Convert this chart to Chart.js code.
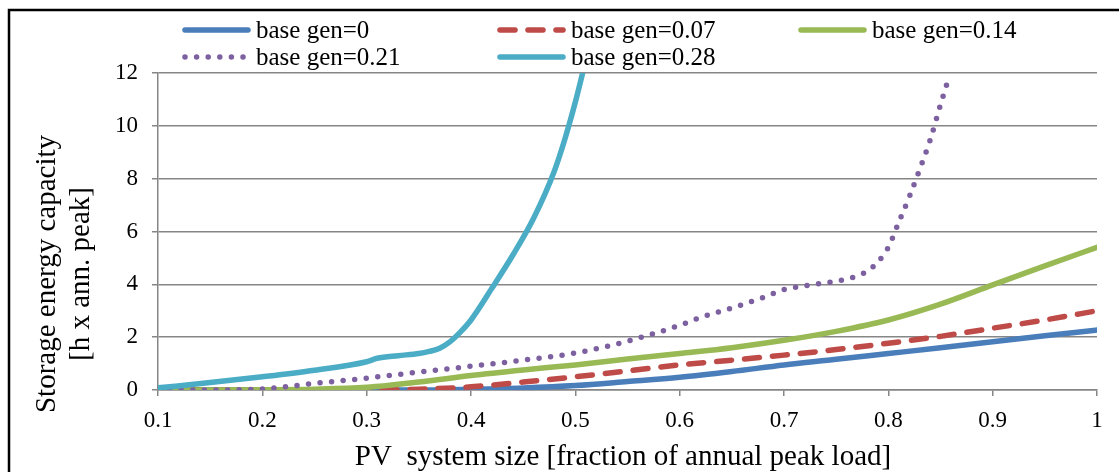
<!DOCTYPE html>
<html>
<head>
<meta charset="utf-8">
<script src="https://cdn.jsdelivr.net/npm/chart.js@4/dist/chart.umd.min.js"></script>
<style>
  html, body { margin: 0; padding: 0; background: #ffffff; }
  #wrap { width: 1119px; height: 472px; position: relative; }
</style>
</head>
<body>
<div id="wrap"><canvas id="c" width="1119" height="472"></canvas></div>
<script>
// ---- data ----
const seriesNames = ['base gen=0', 'base gen=0.07', 'base gen=0.14', 'base gen=0.21', 'base gen=0.28'];

const xCommon = [0.1, 0.15, 0.2, 0.25, 0.3, 0.35, 0.4, 0.45, 0.5, 0.55, 0.6, 0.65, 0.7, 0.75, 0.8, 0.85, 0.9, 0.95, 1.0];
const gen0    = [0, 0, 0, 0, 0, 0, 0.03, 0.08, 0.17, 0.32, 0.48, 0.7, 0.95, 1.16, 1.38, 1.6, 1.83, 2.05, 2.27];
const gen007  = [0, 0, 0, 0, 0, 0.03, 0.12, 0.3, 0.5, 0.72, 0.95, 1.13, 1.32, 1.53, 1.77, 2.03, 2.34, 2.65, 3.0];
const gen014  = [0, 0, 0.01, 0.03, 0.1, 0.3, 0.55, 0.76, 0.95, 1.17, 1.38, 1.6, 1.88, 2.22, 2.65, 3.25, 3.98, 4.7, 5.4];

const x021   = [0.1, 0.15, 0.2, 0.25, 0.3, 0.35, 0.4, 0.45, 0.5, 0.55, 0.6, 0.62, 0.65, 0.68, 0.7, 0.73, 0.76, 0.78, 0.79, 0.8, 0.81, 0.82, 0.83, 0.84, 0.85, 0.857];
const gen021 = [0, 0, 0.04, 0.25, 0.45, 0.68, 0.9, 1.13, 1.4, 1.85, 2.45, 2.75, 3.1, 3.5, 3.8, 4.0, 4.2, 4.5, 4.85, 5.4, 6.35, 7.3, 8.35, 9.45, 10.8, 11.7];

const x028   = [0.1, 0.15, 0.2, 0.25, 0.3, 0.31, 0.33, 0.35, 0.36, 0.37, 0.38, 0.39, 0.4, 0.42, 0.44, 0.46, 0.48, 0.49, 0.5, 0.507];
const gen028 = [0.08, 0.28, 0.5, 0.75, 1.07, 1.2, 1.3, 1.38, 1.46, 1.58, 1.83, 2.2, 2.65, 3.85, 5.1, 6.5, 8.3, 9.5, 10.9, 12];

const xTickLabels = ['0.1', '0.2', '0.3', '0.4', '0.5', '0.6', '0.7', '0.8', '0.9', '1'];
const yTickLabels = ['0', '2', '4', '6', '8', '10', '12'];

const xTitle = 'PV  system size [fraction of annual peak load]';
const yTitleLines = ['Storage energy capacity', '[h x ann. peak]'];

// ---- build ----
const pts = (xs, ys) => xs.map((x, i) => ({ x: x, y: ys[i] }));
const SERIF = "'Liberation Serif', 'Times New Roman', serif";

const datasets = [
  { label: seriesNames[0], data: pts(xCommon, gen0),   borderColor: '#4A7EBB', borderWidth: 5.5, borderDash: [],       borderCapStyle: 'round', order: 5 },
  { label: seriesNames[1], data: pts(xCommon, gen007), borderColor: '#BE4B48', borderWidth: 5.5, borderDash: [15, 13], borderCapStyle: 'round', order: 4 },
  { label: seriesNames[2], data: pts(xCommon, gen014), borderColor: '#98B954', borderWidth: 5.5, borderDash: [],       borderCapStyle: 'round', order: 3 },
  { label: seriesNames[3], data: pts(x021, gen021),    borderColor: '#7D60A0', borderWidth: 5.5, borderDash: [0, 11.6], borderCapStyle: 'round', order: 2 },
  { label: seriesNames[4], data: pts(x028, gen028),    borderColor: '#4BACC6', borderWidth: 5.5, borderDash: [],       borderCapStyle: 'round', order: 1 }
];
datasets.forEach(d => {
  d.fill = false; d.pointRadius = 0; d.pointHoverRadius = 0;
  d.cubicInterpolationMode = 'monotone'; d.borderJoinStyle = 'round';
});

const frameAndText = {
  id: 'frameAndText',
  afterDraw(chart) {
    const ctx = chart.ctx;
    ctx.save();
    // outer frame (top and left visible)
    ctx.strokeStyle = '#000000';
    ctx.lineWidth = 2.5;
    ctx.beginPath();
    ctx.moveTo(9, 600);
    ctx.lineTo(9, 10);
    ctx.lineTo(1130, 10);
    ctx.stroke();

    // legend (grid of 3 columns)
    const cols = [183, 498, 799];
    const rows = [30, 57];
    const sampleW = 67;
    ctx.font = '25px ' + SERIF;
    ctx.textBaseline = 'middle';
    ctx.textAlign = 'left';
    chart.data.datasets.forEach((ds, i) => {
      const cx = cols[i % 3], cy = rows[Math.floor(i / 3)];
      ctx.save();
      ctx.strokeStyle = ds.borderColor;
      ctx.lineWidth = ds.borderWidth;
      ctx.lineCap = ds.borderCapStyle;
      ctx.setLineDash(ds.borderDash || []);
      ctx.beginPath();
      ctx.moveTo(cx + 2, cy);
      ctx.lineTo(cx + sampleW - 2, cy);
      ctx.stroke();
      ctx.restore();
      ctx.fillStyle = '#000000';
      ctx.fillText(ds.label, cx + sampleW + 6, cy + 1);
    });

    // x axis title
    ctx.fillStyle = '#000000';
    ctx.font = '29px ' + SERIF;
    ctx.textAlign = 'center';
    ctx.textBaseline = 'alphabetic';
    ctx.fillText(xTitle, 623, 465);

    // y axis title (two lines, rotated)
    ctx.font = '29px ' + SERIF;
    ctx.translate(0, 274);
    ctx.rotate(-Math.PI / 2);
    ctx.textAlign = 'center';
    ctx.fillText(yTitleLines[0], 0, 55);
    ctx.fillText(yTitleLines[1], 0, 89);
    ctx.restore();
  }
};

new Chart(document.getElementById('c'), {
  type: 'line',
  data: { datasets: datasets },
  plugins: [frameAndText],
  options: {
    responsive: false,
    animation: false,
    devicePixelRatio: 1,
    layout: { padding: { top: 73, right: 22, left: 0, bottom: 0 } },
    plugins: { legend: { display: false }, tooltip: { enabled: false }, title: { display: false } },
    scales: {
      x: {
        type: 'linear', min: 0.1, max: 1,
        afterFit(s) { s.height = 82; },
        afterBuildTicks(s) { s.ticks = xTickLabels.map(t => ({ value: parseFloat(t) })); },
        ticks: {
          autoSkip: false, maxRotation: 0, padding: 11,
          color: '#000000', font: { family: SERIF, size: 23 },
          callback: (v, i) => xTickLabels[i]
        },
        grid: { drawOnChartArea: false, drawTicks: true, tickLength: 6, color: '#868686', lineWidth: 1.5 },
        border: { display: true, color: '#868686', width: 1.5 }
      },
      y: {
        type: 'linear', min: 0, max: 12,
        afterFit(s) { s.width = 158; },
        afterBuildTicks(s) { s.ticks = yTickLabels.map(t => ({ value: parseFloat(t) })); },
        ticks: {
          padding: 14, color: '#000000', font: { family: SERIF, size: 23 },
          callback: (v, i) => yTickLabels[i]
        },
        grid: { drawTicks: true, tickLength: 6, color: '#868686', lineWidth: 1.5 },
        border: { display: true, color: '#868686', width: 1.5 }
      }
    }
  }
});
</script>
</body>
</html>
